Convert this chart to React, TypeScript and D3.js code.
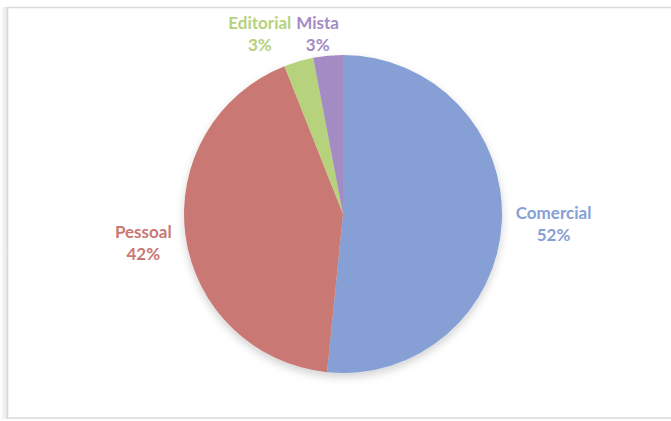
import React, { useEffect, useRef } from "react";
import * as d3 from "d3";

const categories = ["Comercial", "Pessoal", "Editorial", "Mista"];
const values = [51.6, 42.4, 3.0, 3.0];
const colors = ["#86A0D5", "#C97873", "#B6D27C", "#A58BC4"];

const W = 671;
const H = 421;

export default function App() {
  const ref = useRef<SVGSVGElement | null>(null);

  useEffect(() => {
    const svg = d3.select(ref.current);
    svg.selectAll("*").remove();

    const defs = svg.append("defs");
    const f = defs
      .append("filter")
      .attr("id", "pieShadow")
      .attr("x", "-20%")
      .attr("y", "-20%")
      .attr("width", "140%")
      .attr("height", "140%");
    f.append("feDropShadow")
      .attr("dx", 0)
      .attr("dy", 4)
      .attr("stdDeviation", 4)
      .attr("flood-color", "#000")
      .attr("flood-opacity", 0.18);

    const lg = defs.append("linearGradient").attr("id", "leftShade").attr("x1", 0).attr("x2", 1);
    lg.append("stop").attr("offset", 0).attr("stop-color", "#fff");
    lg.append("stop").attr("offset", 1).attr("stop-color", "#e6e6e6");

    svg.append("rect").attr("width", W).attr("height", H).attr("fill", "#fff");
    svg.append("rect").attr("x", 0).attr("y", 7).attr("width", 7).attr("height", 412).attr("fill", "url(#leftShade)");
    svg
      .append("rect")
      .attr("x", 7.5)
      .attr("y", 7.5)
      .attr("width", W + 20)
      .attr("height", 410.5)
      .attr("fill", "#fff")
      .attr("stroke", "#D9D9D9")
      .attr("stroke-width", 1.5);

    const cx = 343;
    const cy = 214;
    const R = 159;

    const pie = d3
      .pie<number>()
      .sort(null)
      .value((d) => d);
    const arcs = pie(values);
    const arc = d3.arc<d3.PieArcDatum<number>>().innerRadius(0).outerRadius(R);

    const g = svg.append("g").attr("transform", `translate(${cx},${cy})`);
    g.append("g")
      .attr("filter", "url(#pieShadow)")
      .selectAll("path")
      .data(arcs)
      .join("path")
      .attr("d", arc)
      .attr("fill", (_, i) => colors[i]);

    const total = d3.sum(values);
    const fontSize = 17;
    const lineH = 22;
    const gap = 14;

    type L = { x: number; y: number; anchor: string; w: number; i: number; top: boolean };
    const labels: L[] = [];
    const measure = svg
      .append("text")
      .attr("font-family", "Lato, 'Open Sans', sans-serif")
      .attr("font-weight", "bold")
      .attr("font-size", fontSize);

    arcs.forEach((a, i) => {
      const mid = (a.startAngle + a.endAngle) / 2;
      const s = Math.sin(mid);
      const c = Math.cos(mid);
      measure.text(categories[i]);
      const w = (measure.node() as SVGTextElement).getComputedTextLength();
      if (Math.abs(s) > 0.7) {
        labels.push({
          x: s * (R + gap),
          y: -c * (R + gap) * 1.2,
          anchor: s > 0 ? "start" : "end",
          w,
          i,
          top: false,
        });
      } else {
        const right = Math.sin(a.endAngle) * R - 4;
        labels.push({
          x: right - w / 2,
          y: -R - 10 - lineH / 2,
          anchor: "middle",
          w,
          i,
          top: true,
        });
      }
    });
    measure.remove();

    const tops = labels.filter((l) => l.top).sort((a, b) => b.x - a.x);
    for (let k = 1; k < tops.length; k++) {
      const right = tops[k - 1];
      const left = tops[k];
      const maxX = right.x - right.w / 2 - 5 - left.w / 2;
      if (left.x > maxX) left.x = maxX;
    }

    labels.forEach((l) => {
      const pct = Math.round((values[l.i] / total) * 100) + "%";
      const t = g
        .append("text")
        .attr("text-anchor", l.anchor)
        .attr("font-family", "Lato, 'Open Sans', sans-serif")
        .attr("font-weight", "bold")
        .attr("font-size", fontSize)
        .attr("fill", colors[l.i]);
      const px = l.x;
      t.append("tspan").attr("x", px).attr("y", l.y - lineH / 2 + 6).text(categories[l.i]);
      t.append("tspan")
        .attr("x", l.anchor === "middle" ? px : l.anchor === "start" ? px + l.w / 2 : px - l.w / 2)
        .attr("text-anchor", "middle")
        .attr("y", l.y + lineH / 2 + 6)
        .text(pct);
    });
  }, []);

  return (
    <svg
      ref={ref}
      width={W}
      height={H}
      style={{ position: "absolute", left: 0, top: 0, display: "block" }}
    />
  );
}
